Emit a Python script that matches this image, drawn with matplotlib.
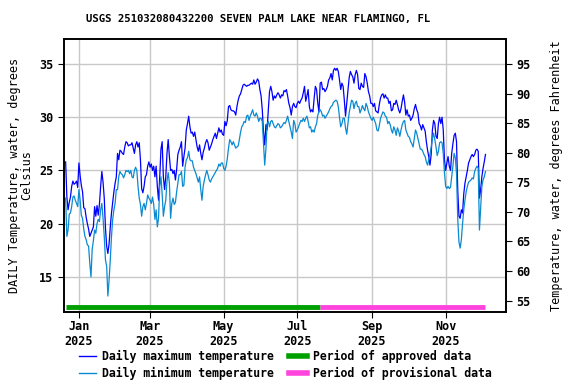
import matplotlib
matplotlib.use("Agg")
import matplotlib.pyplot as plt
import matplotlib.dates as mdates
from matplotlib.lines import Line2D
import pandas as pd

plt.rcParams['font.family'] = 'DejaVu Sans Mono'
plt.rcParams['font.weight'] = 'bold'

# daily values, starting 2024-12-21
t_max = [25.8, 22.5, 21.3, 22.0, 22.5, 23.5, 24.0, 23.7, 23.8, 24.0,
         23.4, 25.7, 24.5, 23.6, 23.0, 21.5, 21.4, 20.6, 20.0, 19.5,
         18.8, 19.1, 19.4, 19.7, 21.6, 20.7, 21.7, 20.8, 21.8, 23.5,
         24.9, 23.9, 22.4, 19.6, 17.9, 17.2, 18.1, 19.7, 21.0, 22.0,
         23.0, 23.8, 24.4, 26.6, 26.0, 26.9, 26.8, 26.6, 26.5, 27.2,
         27.7, 27.6, 27.3, 27.4, 27.4, 27.6, 27.1, 26.6, 27.4, 27.7,
         27.2, 27.6, 26.0, 23.3, 22.9, 23.5, 24.4, 24.6, 25.4, 25.8,
         25.3, 25.6, 25.0, 25.4, 24.4, 25.4, 23.5, 22.2, 24.4, 27.0,
         27.7, 24.4, 23.2, 24.4, 26.6, 27.9, 26.3, 25.0, 25.1, 24.7,
         25.0, 24.1, 25.1, 26.5, 26.9, 27.2, 27.7, 25.4, 26.3, 27.1,
         28.8, 29.4, 30.1, 29.1, 28.5, 28.6, 28.2, 28.6, 27.9, 27.2,
         26.8, 27.4, 26.6, 26.0, 26.7, 27.1, 27.6, 27.9, 27.6, 26.9,
         27.2, 27.5, 27.9, 28.2, 28.5, 28.0, 28.5, 29.0, 28.6, 28.8,
         28.4, 28.3, 29.6, 29.2, 29.7, 31.0, 31.1, 30.7, 30.6, 30.6,
         30.5, 30.2, 31.0, 31.6, 32.0, 32.2, 32.6, 33.0, 33.1, 33.0,
         32.9, 33.0, 33.0, 33.1, 33.2, 33.1, 33.5, 33.1, 33.3, 33.6,
         33.4, 32.6, 32.0, 30.7, 28.6, 27.4, 29.3, 28.8, 30.7, 32.4,
         32.9, 32.4, 31.6, 32.0, 31.8, 32.1, 32.3, 32.1, 31.8, 32.1,
         32.0, 32.5, 32.4, 32.6, 32.0, 31.3, 30.9, 30.2, 31.0, 31.3,
         31.0, 30.9, 31.3, 31.5, 31.3, 31.6, 31.8, 32.3, 32.9, 31.5,
         32.0, 32.6, 31.0, 30.5, 30.7, 30.5, 31.8, 32.9, 32.6, 31.3,
         30.5, 33.2, 33.3, 32.6, 32.7, 32.4, 32.6, 32.9, 33.5, 33.7,
         34.1, 33.5, 34.4, 34.6, 34.4, 34.6, 34.3, 33.5, 32.6, 33.2,
         32.9, 31.6, 30.1, 31.3, 32.6, 33.7, 34.3, 34.0, 33.8, 33.2,
         34.0, 34.4, 34.0, 32.7, 32.6, 33.2, 32.9, 32.8, 34.1, 33.8,
         33.2, 32.4, 32.0, 31.3, 31.3, 31.0, 31.3, 30.6, 30.5, 30.4,
         31.2, 31.8, 32.1, 32.2, 31.8, 32.1, 31.8, 31.8, 31.3, 31.5,
         30.6, 30.7, 31.3, 31.2, 31.6, 31.2, 30.7, 30.4, 30.8, 31.5,
         32.1, 31.4, 30.2, 30.7, 30.1, 30.2, 29.7, 29.9, 30.2, 30.8,
         31.2, 30.7, 30.4, 29.4, 29.2, 28.8, 29.3, 29.0, 28.7, 27.7,
         26.9, 26.3, 25.5, 26.5, 28.8, 29.7, 29.4, 28.2, 28.0, 29.4,
         30.0, 29.4, 30.0, 28.8, 26.0, 25.0, 25.7, 26.3, 25.4, 25.0,
         26.6, 27.5, 28.3, 28.5, 27.7, 23.2, 20.7, 20.5, 21.3, 21.0,
         22.8, 23.8, 24.4, 25.0, 25.7, 26.0, 26.3, 26.5, 26.3, 26.5,
         26.9, 27.0, 26.8, 22.4, 23.2, 24.4, 25.2, 25.8, 26.5]

t_min = [22.4, 18.8, 19.4, 20.9, 21.0, 21.6, 22.5, 22.6, 22.2, 21.9,
         21.6, 23.2, 22.2, 20.8, 20.5, 19.5, 18.8, 18.5, 18.0, 17.9,
         16.3, 15.0, 17.6, 18.4, 19.4, 19.1, 20.0, 20.4, 20.2, 21.3,
         21.9, 20.5, 18.8, 16.6, 16.0, 13.2, 14.7, 16.6, 18.8, 20.4,
         21.3, 21.9, 23.2, 23.2, 24.4, 24.9, 24.7, 24.6, 24.3, 24.6,
         25.0, 24.9, 25.0, 24.7, 25.0, 24.4, 24.3, 25.0, 25.3, 25.0,
         23.5, 22.4, 21.8, 20.7, 21.6, 21.9, 21.3, 21.9, 22.7, 22.4,
         22.2, 21.9, 22.5, 21.8, 20.4, 21.3, 19.7, 20.5, 23.5, 24.4,
         22.8, 20.7, 21.6, 22.2, 24.0, 24.8, 23.8, 20.5, 21.9, 22.4,
         21.8, 22.0, 23.0, 23.8, 24.6, 24.6, 24.9, 23.5, 23.6, 25.3,
         26.0, 26.2, 26.8, 26.0, 25.9, 25.9, 25.3, 25.0, 24.7, 24.3,
         23.9, 24.4, 23.2, 22.2, 23.5, 24.1, 24.6, 25.0, 24.6, 24.1,
         23.9, 24.2, 24.4, 24.6, 24.8, 25.0, 25.2, 25.6, 25.4, 25.7,
         25.7, 25.2, 25.0, 25.4, 26.1, 27.1, 27.9, 27.7, 27.4, 27.7,
         27.4, 27.1, 27.2, 27.3, 27.9, 28.6, 29.1, 29.3, 29.6, 29.5,
         30.1, 30.2, 29.7, 30.1, 30.4, 30.7, 30.2, 30.1, 30.4, 30.1,
         29.6, 29.9, 29.9, 29.6, 27.5, 25.5, 27.0, 29.4, 29.6, 29.1,
         29.6, 29.7, 29.4, 29.1, 29.0, 29.2, 29.4, 29.3, 29.0, 29.1,
         29.3, 29.5, 29.4, 29.7, 30.1, 29.6, 29.1, 28.6, 28.0, 29.7,
         29.4, 28.6, 28.8, 29.1, 29.4, 29.7, 29.6, 29.9, 29.6, 29.9,
         30.1, 29.6, 29.0, 29.1, 28.6, 28.8, 28.6, 29.1, 29.4, 30.2,
         30.5, 30.7, 30.5, 30.1, 30.2, 29.9, 30.1, 30.3, 30.5, 30.8,
         31.0, 31.1, 31.4, 31.5, 31.6, 31.5, 31.0, 30.0, 29.1, 29.4,
         29.9, 29.9, 29.0, 28.4, 29.4, 30.4, 31.0, 31.6, 31.5, 30.8,
         31.3, 31.5, 31.0, 31.0, 30.4, 30.7, 31.1, 30.8, 30.6, 31.3,
         31.0, 30.5, 30.2, 29.9, 29.7, 30.0, 29.7, 29.4, 28.8, 28.7,
         29.2, 29.9, 30.2, 30.5, 30.4, 30.1, 30.0, 29.4, 29.6, 29.3,
         28.8, 28.5, 29.1, 28.8, 28.3, 29.0, 28.7, 28.2, 28.8, 29.3,
         29.6, 29.7, 28.8, 28.5, 28.2, 28.1, 27.7, 27.5, 27.2, 28.0,
         28.8, 28.5, 28.0, 27.5, 27.0, 27.0, 26.8, 26.5, 26.3, 25.8,
         25.5, 26.0, 26.5, 27.2, 28.0, 28.5, 27.9, 27.2, 26.4, 26.8,
         27.6, 27.7, 27.6, 26.6, 24.8, 23.5, 23.3, 23.5, 23.3, 23.4,
         24.4, 25.4, 26.6, 26.2, 24.7, 20.5, 18.3, 17.7, 18.5, 20.0,
         21.3, 22.2, 23.0, 23.5, 23.9, 24.0, 24.1, 24.3, 24.2, 24.9,
         25.2, 25.4, 25.2, 19.4, 21.5, 23.5, 24.1, 24.4, 24.9]

start_date = '2024-12-21'
approved_end = '2025-07-20'
tick_months = ['2025-01-01', '2025-03-01', '2025-05-01', '2025-07-01', '2025-09-01', '2025-11-01']
f_ticks = [55, 60, 65, 70, 75, 80, 85, 90, 95]

dates = pd.date_range(start_date, periods=len(t_max), freq='D')

fig = plt.figure(figsize=(5.76, 3.84), dpi=100)
ax = fig.add_axes([0.111, 0.1875, 0.767, 0.711])

ax.plot(dates, t_max, color='#0000ff', lw=0.9)
ax.plot(dates, t_min, color='#0a8ad0', lw=0.9)

c_lo, c_hi = 11.7, 37.35
bar_y = 12.2
ax.plot([dates[0], pd.Timestamp(approved_end)], [bar_y, bar_y], color='#00a000', lw=3.5, solid_capstyle='butt')
ax.plot([pd.Timestamp(approved_end), dates[-1]], [bar_y, bar_y], color='#ff44dd', lw=3.5, solid_capstyle='butt')

ax.set_ylim(c_lo, c_hi)
ax.set_yticks([15, 20, 25, 30, 35])
ax.set_xlim(pd.Timestamp('2024-12-19 14:00'), pd.Timestamp('2025-12-20 19:00'))
ax.set_xticks(pd.to_datetime(tick_months))
ax.xaxis.set_major_formatter(mdates.DateFormatter('%b\n%Y'))
ax.grid(True, color='#c8c8c8', lw=1)
ax.set_axisbelow(True)
ax.tick_params(labelsize=8.5, length=4, direction='out')
ax.tick_params(axis='x', pad=2)
ax.set_ylabel('DAILY Temperature, water, degrees\nCelsius', fontsize=8.5, linespacing=1.0)
fig.text(258 / 576, 1 - 19 / 384, 'USGS 251032080432200 SEVEN PALM LAKE NEAR FLAMINGO, FL',
         fontsize=7.7, ha='center', va='center')

ax2 = ax.twinx()
ax2.set_ylim(c_lo * 9 / 5 + 32, c_hi * 9 / 5 + 32)
ax2.set_yticks(f_ticks)
ax2.tick_params(labelsize=8.5, length=4, direction='out')
ax2.set_ylabel('Temperature, water, degrees Fahrenheit', fontsize=8.5, labelpad=14)

for a in (ax, ax2):
    for s in a.spines.values():
        s.set_linewidth(1.2)

handles = [Line2D([], [], color='#0000ff', lw=1),
           Line2D([], [], color='#0a8ad0', lw=1),
           Line2D([], [], color='#00a000', lw=4),
           Line2D([], [], color='#ff44dd', lw=4)]
labels = ['Daily maximum temperature', 'Daily minimum temperature',
          'Period of approved data', 'Period of provisional data']
fig.legend(handles, labels, ncol=2, loc='upper left', bbox_to_anchor=(79 / 576, 1 - 350 / 384),
           frameon=False, fontsize=8.3, handlelength=1.5, handletextpad=0.5,
           columnspacing=1.35, labelspacing=0.3, borderpad=0, borderaxespad=0)

fig.savefig('out.png', dpi=100)
